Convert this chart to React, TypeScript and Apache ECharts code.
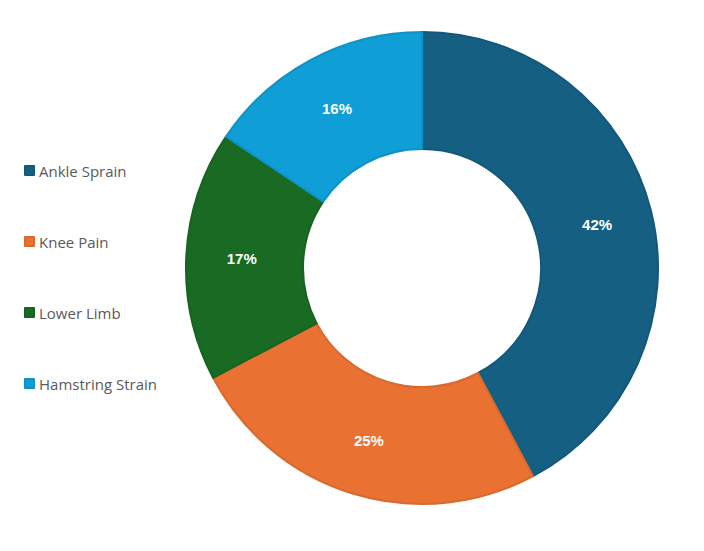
import React, { useEffect, useRef } from "react";
import * as echarts from "echarts";

const categories = ["Ankle Sprain", "Knee Pain", "Lower Limb", "Hamstring Strain"];
const values = [42.2, 25.1, 17.1, 15.6];
const colors = ["#156082", "#E97132", "#196B24", "#0F9ED5"];
const borderColors = ["#13587a", "#d8692f", "#176322", "#0e92c6"];

export default function App() {
  const ref = useRef<HTMLDivElement>(null);
  useEffect(() => {
    if (!ref.current) return;
    const chart = echarts.init(ref.current, undefined, { renderer: "svg" });
    chart.setOption({
      animation: false,
      backgroundColor: "#ffffff",
      legend: {
        orient: "vertical",
        left: 19,
        top: 158,
        itemWidth: 9,
        itemHeight: 9,
        itemGap: 56,
        icon: "rect",
        textStyle: { color: "#595959", fontSize: 15, fontFamily: "Open Sans" },
        data: categories,
      },
      series: [
        {
          type: "pie",
          center: [422, 268],
          radius: [119, 236],
          startAngle: 90,
          clockwise: true,
          label: {
            show: true,
            position: "inside",
            formatter: (p: any) => Math.round(p.percent) + "%",
            color: "#ffffff",
            fontWeight: "bold",
            fontSize: 15,
            fontFamily: "Liberation Sans",
          },
          labelLine: { show: false },
          data: categories.map((c, i) => ({
            name: c,
            value: values[i],
            itemStyle: { color: colors[i], borderColor: borderColors[i], borderWidth: 2 },
          })),
        },
      ],
    });
    return () => chart.dispose();
  }, []);
  return <div ref={ref} style={{ position: "fixed", left: 0, top: 0, width: 704, height: 551 }} />;
}
